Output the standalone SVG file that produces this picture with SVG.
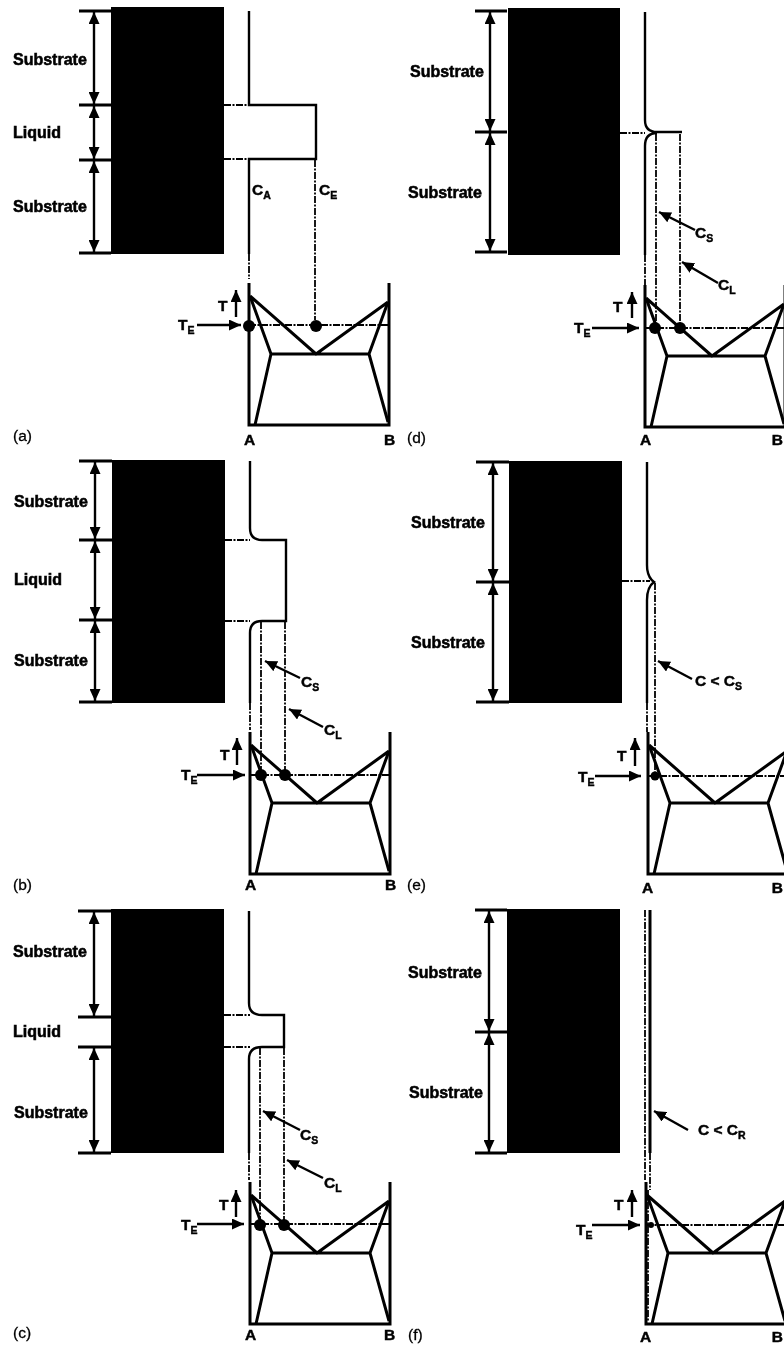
<svg xmlns="http://www.w3.org/2000/svg" width="784" height="1345" viewBox="0 0 784 1345">
<style>
text{font-family:"Liberation Sans",Arial,sans-serif;fill:#000}
.b{font-weight:700;font-size:16px;stroke:#000;stroke-width:.55px}
.c{font-weight:700;font-size:15.5px;stroke:#000;stroke-width:.45px}
.s{font-size:10.5px}
.p{font-size:15.5px;stroke:#000;stroke-width:.3px}
.l{fill:none;stroke:#000;stroke-width:2.4}
.t{fill:none;stroke:#000;stroke-width:3}
.d{fill:none;stroke:#000;stroke-width:1.8;stroke-dasharray:7 1.5 2 1.5}
.a{fill:none;stroke:#000;stroke-width:2.4;marker-end:url(#h)}
.u{fill:none;stroke:#000;stroke-width:2.4;marker-end:url(#h);marker-start:url(#h)}
.k{fill:#000}
</style>
<defs>
<filter id="scan" x="0" y="0" width="100%" height="100%"><feGaussianBlur stdDeviation="0.45"/></filter>
<marker id="h" markerUnits="userSpaceOnUse" markerWidth="13" markerHeight="11" refX="12" refY="5.5" orient="auto-start-reverse"><path d="M0,0L12,5.5L0,11z"/></marker>
<g id="phase">
<path class="t" d="M249,283V425H389V283"/>
<path class="t" d="M250,296L316,354L388,302M250,296L271,354H369L388,302M271,354L255,425M369,354L388,422"/>
</g>
</defs>
<rect width="784" height="1345" fill="#fff"/>
<g filter="url(#scan)">
<g id="panel-a">
<rect class="k" x="111" y="7" width="113" height="247"/>
<path class="t" d="M79,11H111M79,105H111M79,160H111M79,253H111"/>
<path class="l" d="M249,11V105H316V159H249V254"/>
<path class="d" d="M224,105H249M224,159H249M249,254V279M315,160V320"/>
<use href="#phase"/>
<path class="d" d="M249,325H389"/>
<circle class="k" cx="249" cy="326" r="6"/><circle class="k" cx="316" cy="326" r="6"/>
<text class="b" x="13" y="65">Substrate</text><text class="b" x="13" y="138">Liquid</text><text class="b" x="13" y="212">Substrate</text>
<text class="c" x="252" y="195">C<tspan class="s" dy="4">A</tspan></text>
<text class="c" x="319" y="195">C<tspan class="s" dy="4">E</tspan></text>
<text class="c" x="218" y="311">T</text>
<text class="c" x="178" y="330">T<tspan class="s" dy="4">E</tspan></text>
<text class="p" x="13" y="441">(a)</text><text class="c" x="244" y="445">A</text><text class="c" x="384" y="445">B</text>
</g>

<g id="panel-b">
<rect class="k" x="112" y="460" width="113" height="243"/>
<path class="t" d="M79,461H112M79,540H112M79,620H112M79,702H112"/>
<path class="l" d="M250,461V528Q250,540 262,540H286V621H262Q250,621 250,633V703"/>
<path class="d" d="M225,540H250M225,621H250M250,703V730M261,622V775M285,622V775"/>
<use href="#phase" transform="translate(1,449)"/>
<path class="d" d="M250,775H390"/>
<circle class="k" cx="261" cy="775" r="6"/><circle class="k" cx="285" cy="775" r="6"/>
<text class="b" x="14" y="507">Substrate</text><text class="b" x="14" y="585">Liquid</text><text class="b" x="14" y="666">Substrate</text>
<text class="c" x="301" y="687">C<tspan class="s" dy="4">S</tspan></text>
<text class="c" x="324" y="735">C<tspan class="s" dy="4">L</tspan></text>
<text class="c" x="220" y="760">T</text>
<text class="c" x="181" y="780">T<tspan class="s" dy="4">E</tspan></text>
<text class="p" x="13" y="890">(b)</text><text class="c" x="245" y="890">A</text><text class="c" x="385" y="890">B</text>
</g>

<g id="panel-c">
<rect class="k" x="111" y="909" width="113" height="244"/>
<path class="t" d="M78,911H111M78,1017H111M78,1047H111M78,1153H111"/>
<path class="l" d="M249,911V1003Q249,1015 262,1015H284V1047H262Q249,1047 249,1059V1153"/>
<path class="d" d="M224,1015H250M224,1047H250M249,1153V1180M260,1048V1224M284,1048V1224"/>
<use href="#phase" transform="translate(1,899)"/>
<path class="d" d="M250,1224H390"/>
<circle class="k" cx="260" cy="1225" r="6"/><circle class="k" cx="284" cy="1225" r="6"/>
<text class="b" x="13" y="957">Substrate</text><text class="b" x="13" y="1037">Liquid</text><text class="b" x="14" y="1118">Substrate</text>
<text class="c" x="300" y="1140">C<tspan class="s" dy="4">S</tspan></text>
<text class="c" x="324" y="1188">C<tspan class="s" dy="4">L</tspan></text>
<text class="c" x="219" y="1210">T</text>
<text class="c" x="181" y="1230">T<tspan class="s" dy="4">E</tspan></text>
<text class="p" x="13" y="1338">(c)</text><text class="c" x="245" y="1340">A</text><text class="c" x="384" y="1340">B</text>
</g>

<g id="panel-d">
<rect class="k" x="508" y="8" width="112" height="247"/>
<path class="t" d="M475,11H507M475,132H507M475,252H507"/>
<path class="l" d="M645,12V120Q645,132 657,132H682M657,133Q645,133 645,146V255"/>
<path class="d" d="M620,133H645M645,255V285M656,134V328M680,134V328"/>
<use href="#phase" transform="translate(396,2)"/>
<path class="d" d="M645,328H784"/>
<circle class="k" cx="655" cy="328" r="6"/><circle class="k" cx="680" cy="328" r="6"/>
<text class="b" x="410" y="77">Substrate</text><text class="b" x="408" y="198">Substrate</text>
<text class="c" x="695" y="238">C<tspan class="s" dy="4">S</tspan></text>
<text class="c" x="718" y="290">C<tspan class="s" dy="4">L</tspan></text>
<text class="c" x="613" y="312">T</text>
<text class="c" x="574" y="333">T<tspan class="s" dy="4">E</tspan></text>
<text class="p" x="407" y="443">(d)</text><text class="c" x="640" y="445">A</text><text class="c" x="783" y="445" text-anchor="end">B</text>
</g>

<g id="panel-e">
<rect class="k" x="509" y="461" width="113" height="242"/>
<path class="t" d="M476,462H509M476,582H509M476,702H509"/>
<path class="l" d="M647,462V565Q647,577 654,582Q647,587 647,600V703"/>
<path class="d" d="M622,581H650M647,703V732M655,583V776"/>
<use href="#phase" transform="translate(399,449)"/>
<path class="d" d="M648,776H784"/>
<circle class="k" cx="655" cy="776" r="4.5"/>
<text class="b" x="411" y="528">Substrate</text><text class="b" x="411" y="648">Substrate</text>
<text class="c" x="695" y="686">C &lt; C<tspan class="s" dy="4">S</tspan></text>
<text class="c" x="617" y="761">T</text>
<text class="c" x="578" y="782">T<tspan class="s" dy="4">E</tspan></text>
<text class="p" x="407" y="890">(e)</text><text class="c" x="642" y="893">A</text><text class="c" x="783" y="893" text-anchor="end">B</text>
</g>

<g id="panel-f">
<rect class="k" x="507" y="909" width="113" height="244"/>
<path class="t" d="M475,910H507M475,1032H507M475,1153H507"/>
<path class="t" d="M650,910V1153"/>
<path class="d" d="M645,910V1180M650,1153V1190M648,1190V1322"/>
<use href="#phase" transform="translate(397,899)"/>
<path class="d" d="M646,1225H784"/>
<circle class="k" cx="651" cy="1225" r="3"/>
<text class="b" x="408" y="978">Substrate</text><text class="b" x="409" y="1098">Substrate</text>
<text class="c" x="698" y="1135">C &lt; C<tspan class="s" dy="4">R</tspan></text>
<text class="c" x="614" y="1210">T</text>
<text class="c" x="576" y="1235">T<tspan class="s" dy="4">E</tspan></text>
<text class="p" x="408" y="1340">(f)</text><text class="c" x="640" y="1342">A</text><text class="c" x="783" y="1342" text-anchor="end">B</text>
</g>

<g id="connectors">
<path class="u" d="M94,12V104"/><path class="u" d="M94,106V159"/><path class="u" d="M94,161V252"/>
<path class="a" d="M197,325H241"/><path class="a" d="M236,317V290"/>
<path class="u" d="M95,462V539"/><path class="u" d="M95,541V619"/><path class="u" d="M95,621V701"/>
<path class="a" d="M197,775H245"/><path class="a" d="M237,765V738"/>
<path class="a" d="M300,678L265,661"/><path class="a" d="M323,727L289,709"/>
<path class="u" d="M94,912V1016"/><path class="u" d="M94,1048V1152"/>
<path class="a" d="M197,1224H244"/><path class="a" d="M236,1217V1190"/>
<path class="a" d="M300,1130L263,1111"/><path class="a" d="M323,1178L287,1160"/>
<path class="u" d="M490,12V131"/><path class="u" d="M490,133V251"/>
<path class="a" d="M592,328H639"/><path class="a" d="M632,318V292"/>
<path class="a" d="M695,230L659,212"/><path class="a" d="M718,283L682,262"/>
<path class="u" d="M493,463V581"/><path class="u" d="M493,583V701"/>
<path class="a" d="M595,776H641"/><path class="a" d="M635,766V738"/>
<path class="a" d="M692,679L658,661"/>
<path class="u" d="M489,911V1031"/><path class="u" d="M489,1033V1152"/>
<path class="a" d="M592,1225H640"/><path class="a" d="M632,1217V1190"/>
<path class="a" d="M688,1130L654,1111"/>
</g>
</g>
</svg>
